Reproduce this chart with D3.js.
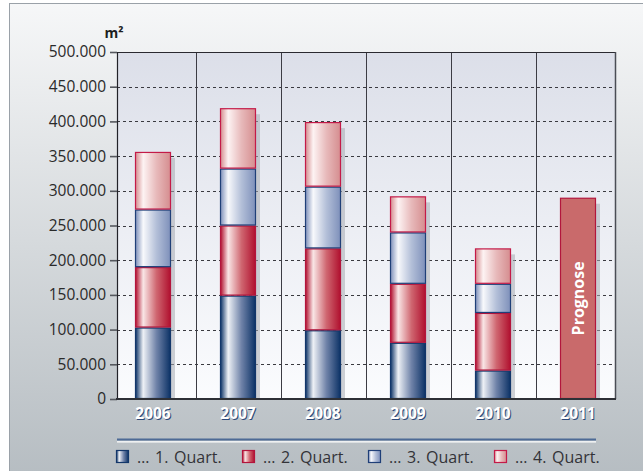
<!DOCTYPE html>
<html>
<head>
<meta charset="utf-8">
<script src="https://cdn.jsdelivr.net/npm/d3@7"></script>
<style>
  html, body { margin: 0; padding: 0; background: #ffffff; }
  svg { display: block; }
  text { font-family: "Open Sans", "Noto Sans", sans-serif; }
</style>
</head>
<body>
<svg id="chart" width="643" height="471"></svg>
<script>
// Flächenumsatz je Quartal (m²)
const years = ["2006", "2007", "2008", "2009", "2010", "2011"];
const quarters = ["… 1. Quart.", "… 2. Quart.", "… 3. Quart.", "… 4. Quart."];
const q1 = [103000, 149000, 99000, 81000, 41000, null];
const q2 = [87000, 101000, 118000, 85000, 83000, null];
const q3 = [83000, 82000, 89000, 74000, 42000, null];
const q4 = [83000, 87000, 93000, 52000, 51000, null];
const forecastYear = "2011";
const forecastValue = 290000;
const forecastLabel = "Prognose";
const yTicks = [0, 50000, 100000, 150000, 200000, 250000, 300000, 350000, 400000, 450000, 500000];
const yUnit = "m²";

const svg = d3.select("#chart");
const defs = svg.append("defs");

// Hintergrundverläufe
const bgGrad = defs.append("linearGradient").attr("id", "bgGrad")
  .attr("x1", 0).attr("y1", 0).attr("x2", 0).attr("y2", 1);
bgGrad.append("stop").attr("offset", "0%").attr("stop-color", "#f6f7f8");
bgGrad.append("stop").attr("offset", "100%").attr("stop-color", "#b5bcc1");

const plotGrad = defs.append("linearGradient").attr("id", "plotGrad")
  .attr("x1", 0).attr("y1", 0).attr("x2", 0).attr("y2", 1);
plotGrad.append("stop").attr("offset", "0%").attr("stop-color", "#dcdfe9");
plotGrad.append("stop").attr("offset", "100%").attr("stop-color", "#fbfcfe");

// Zylinder-Verläufe der Quartalsbalken
const quarterStyles = [
  { id: "gq1", edge: "#0c3266", mid: "#6f82a8", light: "#eef1f6", stroke: "#12366a" },
  { id: "gq2", edge: "#b0102e", mid: "#cf6670", light: "#f9e6e6", stroke: "#b3143c" },
  { id: "gq3", edge: "#7e90ba", mid: "#b3bfd8", light: "#f8f9fc", stroke: "#1f3f78" },
  { id: "gq4", edge: "#d58d8f", mid: "#e7b9ba", light: "#fdf3f3", stroke: "#c41a48" }
];
quarterStyles.forEach(s => {
  const g = defs.append("linearGradient").attr("id", s.id)
    .attr("x1", 0).attr("y1", 0).attr("x2", 1).attr("y2", 0);
  g.append("stop").attr("offset", "0%").attr("stop-color", s.edge);
  g.append("stop").attr("offset", "22%").attr("stop-color", s.light);
  g.append("stop").attr("offset", "60%").attr("stop-color", s.mid);
  g.append("stop").attr("offset", "100%").attr("stop-color", s.edge);
});

// Außenrahmen
svg.append("rect")
  .attr("x", 9.5).attr("y", 3.5).attr("width", 650).attr("height", 480)
  .attr("fill", "url(#bgGrad)").attr("stroke", "#9aa1a8").attr("stroke-width", 1);

// Skalen
const plot = { left: 117, right: 615, top: 52, bottom: 399 };
const x = d3.scaleBand().domain(years).range([110.5, 620.5]).padding(0);
const barW = 36;
const y = d3.scaleLinear().domain([0, 500000]).range([plot.bottom, plot.top]);

// Zeichenfläche
svg.append("rect")
  .attr("x", plot.left).attr("y", plot.top)
  .attr("width", plot.right - plot.left).attr("height", plot.bottom - plot.top)
  .attr("fill", "url(#plotGrad)");

// Gitternetz (gestrichelt)
svg.append("g").selectAll("line")
  .data(yTicks.filter(t => t > 0 && t < 500000))
  .join("line")
  .attr("x1", plot.left).attr("x2", plot.right)
  .attr("y1", d => Math.round(y(d)) + 0.5).attr("y2", d => Math.round(y(d)) + 0.5)
  .attr("stroke", "#3a3a40").attr("stroke-width", 1)
  .attr("stroke-dasharray", "3,3");

// Trennlinien zwischen den Jahren
svg.append("g").selectAll("line")
  .data(years.slice(1))
  .join("line")
  .attr("x1", d => Math.round(x(d)) + 0.5).attr("x2", d => Math.round(x(d)) + 0.5)
  .attr("y1", plot.top).attr("y2", plot.bottom)
  .attr("stroke", "#3c3c44").attr("stroke-width", 1);

// Rahmen oben und rechts
svg.append("line").attr("x1", plot.left).attr("x2", plot.right)
  .attr("y1", plot.top + 0.5).attr("y2", plot.top + 0.5)
  .attr("stroke", "#2a2a30").attr("stroke-width", 1);
svg.append("line").attr("x1", plot.right + 0.5).attr("x2", plot.right + 0.5)
  .attr("y1", plot.top).attr("y2", plot.bottom)
  .attr("stroke", "#4a4d55").attr("stroke-width", 1.5);

// Stapeldaten
const rows = years.map((yr, i) => ({ year: yr, q1: q1[i], q2: q2[i], q3: q3[i], q4: q4[i] }))
  .filter(r => r.q1 !== null);
const keys = ["q1", "q2", "q3", "q4"];
const stack = d3.stack().keys(keys)(rows);

// Schatten hinter den Balken
const shadowDx = 4, shadowDy = 6;
const totals = rows.map(r => ({ year: r.year, total: r.q1 + r.q2 + r.q3 + r.q4 }));
totals.push({ year: forecastYear, total: forecastValue });
svg.append("g").selectAll("rect")
  .data(totals)
  .join("rect")
  .attr("x", d => x(d.year) + (x.bandwidth() - barW) / 2 + shadowDx)
  .attr("y", d => y(d.total) + shadowDy)
  .attr("width", barW)
  .attr("height", d => y(0) - y(d.total) - shadowDy)
  .attr("fill", "#a7abb3").attr("opacity", 0.55);

// Quartalsbalken
const barsG = svg.append("g");
stack.forEach((layer, li) => {
  const s = quarterStyles[li];
  barsG.append("g").selectAll("rect")
    .data(layer)
    .join("rect")
    .attr("x", d => x(d.data.year) + (x.bandwidth() - barW) / 2 + 0.5)
    .attr("y", d => y(d[1]) + 0.5)
    .attr("width", barW - 1)
    .attr("height", d => y(d[0]) - y(d[1]) - 1)
    .attr("fill", `url(#${s.id})`)
    .attr("stroke", s.stroke).attr("stroke-width", 1.2);
});

// Prognosebalken
const fx = x(forecastYear) + (x.bandwidth() - barW) / 2;
barsG.append("rect")
  .attr("x", fx + 0.5).attr("y", y(forecastValue) + 0.5)
  .attr("width", barW - 1).attr("height", y(0) - y(forecastValue) - 1)
  .attr("fill", "#c96a6b").attr("stroke", "#b2163c").attr("stroke-width", 1.2);
const fcx = fx + barW / 2;
const fcy = (y(forecastValue) + y(0)) / 2;
svg.append("text")
  .attr("transform", `translate(${fcx + 5.5},${fcy}) rotate(-90)`)
  .attr("text-anchor", "middle")
  .attr("fill", "#ffffff").attr("font-weight", "bold").attr("font-size", 16)
  .text(forecastLabel);

// Y-Achse
const de = d3.formatLocale({ decimal: ",", thousands: ".", grouping: [3], currency: ["", " €"] });
const fmt = de.format(",d");
const yAxis = svg.append("g")
  .attr("transform", `translate(${plot.left},0)`)
  .call(d3.axisLeft(y).tickValues(yTicks).tickFormat(fmt).tickSize(7).tickPadding(4));
yAxis.select(".domain").attr("stroke", "#222228").attr("stroke-width", 1.2);
yAxis.selectAll(".tick line").attr("stroke", "#55585e").attr("stroke-width", 1.6);
yAxis.selectAll(".tick text")
  .attr("fill", "#2a2a2a").attr("font-size", 15.5)
  .attr("font-family", "'Open Sans', 'Noto Sans', sans-serif");

// Grundlinie
svg.append("line").attr("x1", plot.left - 1).attr("x2", plot.right + 1)
  .attr("y1", plot.bottom).attr("y2", plot.bottom)
  .attr("stroke", "#2e3036").attr("stroke-width", 2);

// Einheit
svg.append("text")
  .attr("x", 114).attr("y", 38).attr("text-anchor", "middle")
  .attr("font-weight", "bold").attr("font-size", 14).attr("fill", "#1e1e1e")
  .text(yUnit);

// Jahreszahlen mit Schlagschatten
const yearG = svg.append("g");
yearG.selectAll("text.sh")
  .data(years).join("text").attr("class", "sh")
  .attr("x", d => x(d) + x.bandwidth() / 2 + 1).attr("y", 420)
  .attr("text-anchor", "middle").attr("font-weight", "bold").attr("font-size", 15.5)
  .attr("fill", "#2d4a7a").text(d => d);
yearG.selectAll("text.fg")
  .data(years).join("text").attr("class", "fg")
  .attr("x", d => x(d) + x.bandwidth() / 2).attr("y", 419)
  .attr("text-anchor", "middle").attr("font-weight", "bold").attr("font-size", 15.5)
  .attr("fill", "#ffffff").text(d => d);

// Legende
svg.append("line").attr("x1", 117).attr("x2", 596).attr("y1", 439.5).attr("y2", 439.5)
  .attr("stroke", "#4d6a95").attr("stroke-width", 2);
svg.append("line").attr("x1", 117).attr("x2", 596).attr("y1", 441.8).attr("y2", 441.8)
  .attr("stroke", "#ffffff").attr("stroke-width", 1.2);

const legend = svg.append("g").selectAll("g")
  .data(quarters).join("g")
  .attr("transform", (d, i) => `translate(${116 + i * 126},450)`);
legend.append("rect")
  .attr("x", 0.5).attr("y", 0.5).attr("width", 12).attr("height", 12)
  .attr("fill", (d, i) => `url(#${quarterStyles[i].id})`)
  .attr("stroke", (d, i) => quarterStyles[i].stroke).attr("stroke-width", 1.2);
legend.append("text")
  .attr("x", 21).attr("y", 12.5)
  .attr("font-size", 16).attr("fill", "#333338")
  .attr("word-spacing", 1.5)
  .text(d => d);
</script>
</body>
</html>
